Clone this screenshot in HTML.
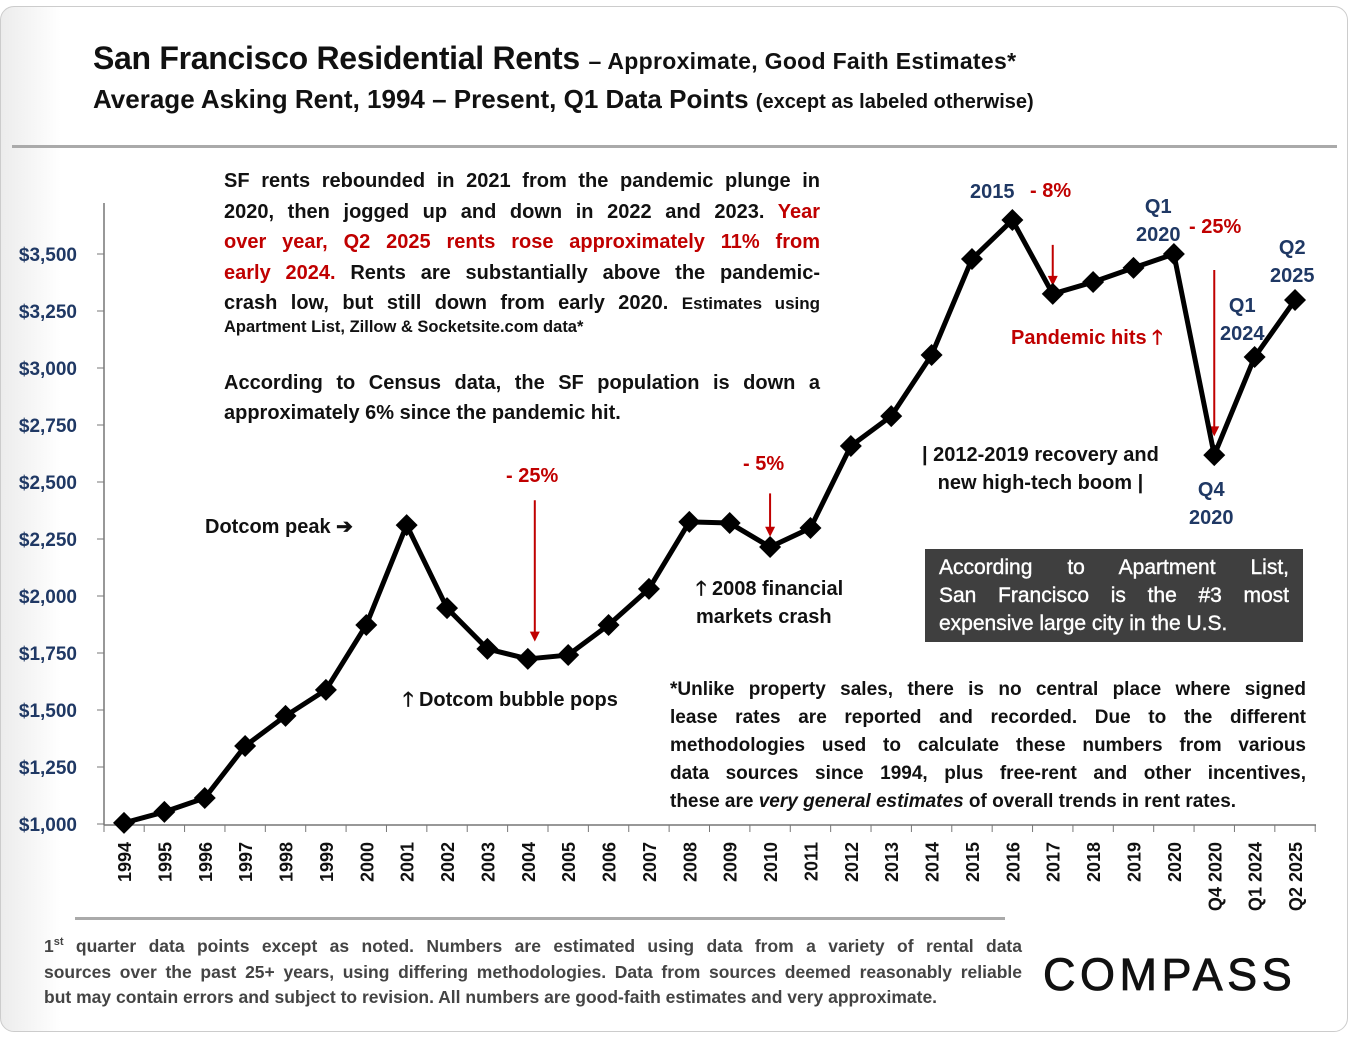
<!DOCTYPE html>
<html><head><meta charset="utf-8"><style>
body{margin:0;width:1350px;height:1038px;background:#fff;font-family:"Liberation Sans",sans-serif;position:relative;overflow:hidden;color:#111}
.frame{position:absolute;left:0;top:6px;width:1346px;height:1024px;border:1px solid #ccc;border-radius:14px;background:linear-gradient(90deg,#ececec 0,#fff 60px)}
.t{position:absolute;white-space:nowrap}
.red{color:#c00000}.blue{color:#1f3864}
.blk{position:absolute}
.blk div{text-align:justify;text-align-last:justify;white-space:nowrap}
.blk div.l{text-align-last:left}
</style></head><body>
<div class="frame"></div>
<div class="t" style="left:93px;top:40px;font-size:32px;font-weight:bold;letter-spacing:-0.3px">San Francisco Residential Rents <span style="font-size:23px;letter-spacing:0.3px">– Approximate, Good Faith Estimates*</span></div>
<div class="t" style="left:93px;top:84px;font-size:26px;font-weight:bold;letter-spacing:0">Average Asking Rent, 1994 – Present, Q1 Data Points <span style="font-size:20px">(except as labeled otherwise)</span></div>
<div style="position:absolute;left:12px;top:145px;width:1325px;height:3px;background:#aaa"></div>
<svg id="chart" width="1350" height="1038" style="position:absolute;left:0;top:0"></svg>
<div class="blk" style="left:224px;top:166px;width:596px;font-size:20px;font-weight:bold;line-height:30.5px">
<div>SF rents rebounded in 2021 from the pandemic plunge in</div>
<div>2020, then jogged up and down in 2022 and 2023. <span class="red">Year</span></div>
<div class="red">over year, Q2 2025 rents rose approximately 11% from</div>
<div><span class="red">early 2024.</span> Rents are substantially above the pandemic-</div>
<div>crash low, but still down from early 2020. <span style="font-size:17px">Estimates using</span></div>
</div>
<div class="t" style="left:224px;top:318px;font-size:16.5px;font-weight:bold">Apartment List, Zillow &amp; Socketsite.com data*</div>
<div class="blk" style="left:224px;top:368px;width:596px;font-size:20px;font-weight:bold;line-height:30px">
<div>According to Census data, the SF population is down a</div>
<div class="l">approximately 6% since the pandemic hit.</div>
</div>
<div class="t" style="left:205px;top:514px;font-size:20px;font-weight:bold">Dotcom peak ➔</div>
<div class="t red" style="left:506px;top:465px;font-size:20px;font-weight:bold">- 25%</div>
<div class="t red" style="left:743px;top:453px;font-size:20px;font-weight:bold">- 5%</div>
<div class="t" style="left:399px;top:685px;font-size:20px;font-weight:bold;background:#fff;padding:0 4px">🡑 Dotcom bubble pops</div>
<div class="t" style="left:696px;top:575px;font-size:20px;font-weight:bold;line-height:28px">🡑 2008 financial<br>markets crash</div>
<div class="t" style="left:922px;top:441px;font-size:20px;font-weight:bold;line-height:28px;text-align:center">| 2012-2019 recovery and<br>new high-tech boom |</div>
<div class="t blue" style="left:970px;top:181px;font-size:20px;font-weight:bold">2015</div>
<div class="t red" style="left:1030px;top:180px;font-size:20px;font-weight:bold">- 8%</div>
<div class="t blue" style="left:1136px;top:193px;font-size:20px;font-weight:bold;line-height:28px;text-align:center">Q1<br>2020</div>
<div class="t red" style="left:1189px;top:216px;font-size:20px;font-weight:bold">- 25%</div>
<div class="t blue" style="left:1270px;top:234px;font-size:20px;font-weight:bold;line-height:28px;text-align:center">Q2<br>2025</div>
<div class="t blue" style="left:1220px;top:292px;font-size:20px;font-weight:bold;line-height:28px;text-align:center">Q1<br>2024</div>
<div class="t red" style="left:1011px;top:323px;font-size:20px;font-weight:bold">Pandemic hits 🡑</div>
<div class="t blue" style="left:1189px;top:476px;font-size:20px;font-weight:bold;line-height:28px;text-align:center">Q4<br>2020</div>
<div class="blk" style="left:925px;top:549px;width:350px;padding:5px 14px 4px;background:#3f3f3f;color:#fff;font-size:21px;line-height:28px;-webkit-text-stroke:0.4px #fff">
<div>According to Apartment List,</div>
<div>San Francisco is the #3 most</div>
<div class="l">expensive large city in the U.S.</div>
</div>
<div class="blk" style="left:670px;top:676px;width:636px;font-size:19px;font-weight:bold;line-height:28px;background:#fff">
<div>*Unlike property sales, there is no central place where signed</div>
<div>lease rates are reported and recorded. Due to the different</div>
<div>methodologies used to calculate these numbers from various</div>
<div>data sources since 1994, plus free-rent and other incentives,</div>
<div class="l">these are <i>very general estimates</i> of overall trends in rent rates.</div>
</div>
<div style="position:absolute;left:75px;top:917px;width:930px;height:3px;background:#aaa"></div>
<div class="blk" style="left:44px;top:934px;width:978px;font-size:17.5px;font-weight:bold;line-height:25.5px;color:#444">
<div>1<sup style="font-size:11px;line-height:0">st</sup> quarter data points except as noted. Numbers are estimated using data from a variety of rental data</div>
<div>sources over the past 25+ years, using differing methodologies. Data from sources deemed reasonably reliable</div>
<div class="l">but may contain errors and subject to revision. All numbers are good-faith estimates and very approximate.</div>
</div>
<div class="t" style="left:1043px;top:949px;font-size:45px;letter-spacing:4.5px;color:#111;-webkit-text-stroke:0.8px #111">COMPASS</div>
<script>
const categories=["1994","1995","1996","1997","1998","1999","2000","2001","2002","2003","2004","2005","2006","2007","2008","2009","2010","2011","2012","2013","2014","2015","2016","2017","2018","2019","2020","Q4 2020","Q1 2024","Q2 2025"];
const rents=[1005,1053,1114,1342,1474,1588,1873,2311,1947,1768,1724,1741,1873,2031,2325,2320,2215,2298,2658,2789,3057,3478,3649,3325,3377,3439,3500,2618,3048,3298];
const yTicks=[1000,1250,1500,1750,2000,2250,2500,2750,3000,3250,3500];
const yTickLabels=["$1,000","$1,250","$1,500","$1,750","$2,000","$2,250","$2,500","$2,750","$3,000","$3,250","$3,500"];
const arrows=[["2004",2420,1800],["2010",2450,2260],["2017",3540,3360],["Q4 2020",3430,2700]];
const NS="http://www.w3.org/2000/svg",svg=document.getElementById('chart');
const xs=i=>124+i*40.38, ys=v=>824-(v-1000)*0.228;
function mk(t,a){const e=document.createElementNS(NS,t);for(const k in a)e.setAttribute(k,a[k]);svg.appendChild(e);return e;}
let e=mk('line',{x1:104,y1:203,x2:104,y2:825,stroke:'#777','stroke-width':1.5});


e=mk('line',{x1:104,y1:825,x2:1316,y2:825,stroke:'#777','stroke-width':1.5});


yTicks.forEach((v,i)=>{mk('line',{x1:97,x2:104,y1:ys(v),y2:ys(v),stroke:'#777'});
const t=mk('text',{x:77,y:ys(v)+7,'text-anchor':'end','font-size':19,'font-weight':'bold',fill:'#1f3864'});t.textContent=yTickLabels[i];

});
categories.forEach((c,i)=>{const bx=xs(i)+20.19;mk('line',{x1:bx,x2:bx,y1:825,y2:832,stroke:'#777'});
const t=mk('text',{x:0,y:0,transform:`translate(${xs(i)+7},842) rotate(-90)`,'text-anchor':'end','font-size':18,'font-weight':'bold',fill:'#111'});t.textContent=c;

});
mk('line',{x1:104,x2:104,y1:825,y2:832,stroke:'#777'});
arrows.forEach(a=>{const i=categories.indexOf(a[0]);const x=xs(i)+(a[0]==="2004"?7:0),y1=ys(a[1]),y2=ys(a[2]);
const l=mk('line',{x1:x,x2:x,y1:y1,y2:y2-8,stroke:'#c00000','stroke-width':2});


mk('polygon',{points:`${x-5},${y2-10} ${x+5},${y2-10} ${x},${y2}`,fill:'#c00000'});});
const p=mk('polyline',{points:rents.map((v,i)=>xs(i)+','+ys(v)).join(' '),fill:'none',stroke:'#000','stroke-width':5,'stroke-linejoin':'round'});


rents.forEach((v,i)=>{const x=xs(i),y=ys(v);const d=mk('polygon',{points:`${x},${y-11} ${x+11},${y} ${x},${y+11} ${x-11},${y}`,fill:'#000'});

});
</script>
</body></html>
